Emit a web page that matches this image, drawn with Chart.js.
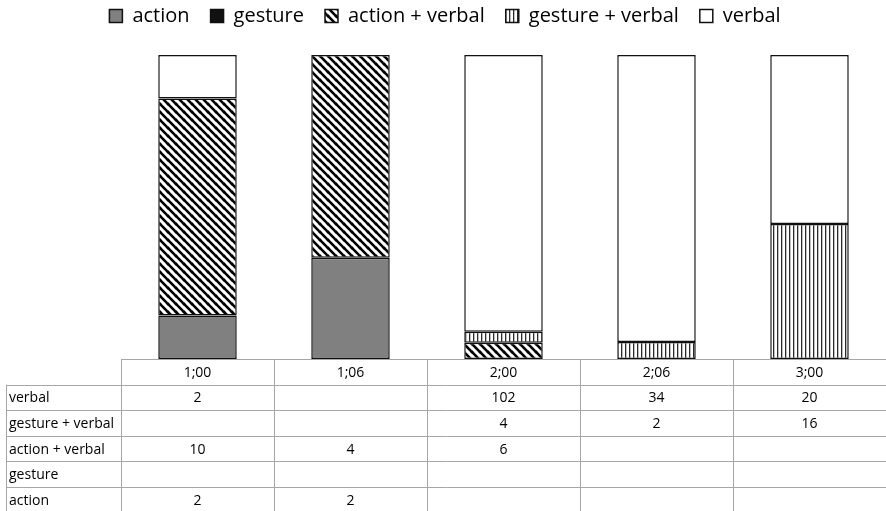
<!DOCTYPE html>
<html>
<head>
<meta charset="utf-8">
<script src="https://cdn.jsdelivr.net/npm/chart.js@4"></script>
<style>
  html, body { margin: 0; padding: 0; background: #fff; }
  #wrap { width: 886px; height: 511px; position: relative; }
</style>
</head>
<body>
<div id="wrap"><canvas id="chart"></canvas></div>
<script>
// 年齢（カテゴリ）と各タイプの件数
const categories = ['1;00', '1;06', '2;00', '2;06', '3;00'];
const action = [2, 2, null, null, null];
const gesture = [null, null, null, null, null];
const actionVerbal = [10, 4, 6, null, null];
const gestureVerbal = [null, null, 4, 2, 16];
const verbal = [2, null, 102, 34, 20];
const seriesLabels = ['action', 'gesture', 'action + verbal', 'gesture + verbal', 'verbal'];
const seriesValues = [action, gesture, actionVerbal, gestureVerbal, verbal];

const FONT = "'Open Sans', 'Noto Sans', sans-serif";

// パターン生成
function makePattern(size, draw) {
  const c = document.createElement('canvas');
  c.width = size; c.height = size;
  const g = c.getContext('2d');
  g.fillStyle = '#fff';
  g.fillRect(0, 0, size, size);
  draw(g, size);
  return g.createPattern(c, 'repeat');
}
const diagPattern = makePattern(8, (g, s) => {
  g.strokeStyle = '#000';
  g.lineWidth = 2.6;
  [[-s, 0], [0, 0], [s, 0], [0, -s], [0, s]].forEach(([dx, dy]) => {
    g.beginPath();
    g.moveTo(dx - 2, dy - 2);
    g.lineTo(dx + s + 2, dy + s + 2);
    g.stroke();
  });
});
const vertPattern = makePattern(4, (g, s) => {
  g.fillStyle = '#2a2a2a';
  g.fillRect(1, 0, 1.3, s);
});

const fills = ['#808080', '#111111', diagPattern, vertPattern, '#ffffff'];

// 100% 積み上げ用の割合
const totals = categories.map((_, i) => seriesValues.reduce((s, arr) => s + (arr[i] || 0), 0));
const toPct = arr => arr.map((v, i) => (v ? v / totals[i] * 100 : null));

const datasets = seriesLabels.map((label, k) => ({
  label,
  data: toPct(seriesValues[k]),
  backgroundColor: fills[k],
  borderColor: '#111',
  borderWidth: 1.5,
  borderSkipped: false,
  categoryPercentage: 1,
  barPercentage: 0.513,
}));

// データテーブル描画
const tablePlugin = {
  id: 'dataTable',
  afterDraw(chart) {
    const { ctx, chartArea, scales: { x } } = chart;
    const top = chartArea.bottom;
    const rowH = 25.6;
    const colW = x.width / categories.length;
    const labelLeft = 6;
    const bottom = chart.height + 2;
    const px = v => Math.round(v) + 0.5;

    ctx.save();
    ctx.strokeStyle = '#a6a6a6';
    ctx.lineWidth = 1;
    ctx.beginPath();
    ctx.moveTo(chartArea.left, px(top));
    ctx.lineTo(chart.width + 4, px(top));
    for (let r = 1; r <= 5; r++) {
      const y = px(top + r * rowH);
      ctx.moveTo(labelLeft, y);
      ctx.lineTo(chart.width + 4, y);
    }
    for (let c = 0; c <= categories.length; c++) {
      const xx = px(chartArea.left + c * colW);
      ctx.moveTo(xx, top);
      ctx.lineTo(xx, bottom);
    }
    ctx.moveTo(px(labelLeft), top + rowH);
    ctx.lineTo(px(labelLeft), bottom);
    ctx.stroke();

    ctx.fillStyle = '#000';
    ctx.font = `14px ${FONT}`;
    ctx.textBaseline = 'middle';
    ctx.textAlign = 'center';
    categories.forEach((cat, i) => {
      ctx.fillText(cat, x.getPixelForValue(i), top + rowH / 2 + 1);
    });
    // 表の行は上から verbal → action
    for (let r = 0; r < 5; r++) {
      const k = 4 - r;
      const yMid = top + (r + 1) * rowH + rowH / 2 + 1;
      ctx.textAlign = 'left';
      ctx.fillText(seriesLabels[k], labelLeft + 3, yMid);
      ctx.textAlign = 'center';
      seriesValues[k].forEach((v, i) => {
        if (v !== null && v !== undefined) ctx.fillText(String(v), x.getPixelForValue(i), yMid);
      });
    }
    ctx.restore();
  }
};

new Chart(document.getElementById('chart'), {
  type: 'bar',
  data: { labels: categories, datasets },
  plugins: [tablePlugin],
  options: {
    responsive: true,
    maintainAspectRatio: false,
    animation: false,
    layout: { padding: { left: 0, right: -4, top: -15, bottom: 152 } },
    plugins: {
      legend: {
        position: 'top',
        labels: {
          boxWidth: 13,
          boxHeight: 13,
          padding: 21,
          color: '#000',
          font: { family: FONT, size: 20 },
        },
      },
      tooltip: { enabled: false },
    },
    scales: {
      x: {
        stacked: true,
        position: 'top',
        ticks: { display: false },
        grid: { display: false },
        border: { display: false },
        afterFit: (scale) => { scale.height = 19; },
      },
      y: {
        stacked: true, min: 0, max: 100,
        ticks: { display: false },
        grid: { display: false },
        border: { display: false },
        afterFit: (scale) => { scale.width = 121; },
      },
    },
  },
});
</script>
</body>
</html>
